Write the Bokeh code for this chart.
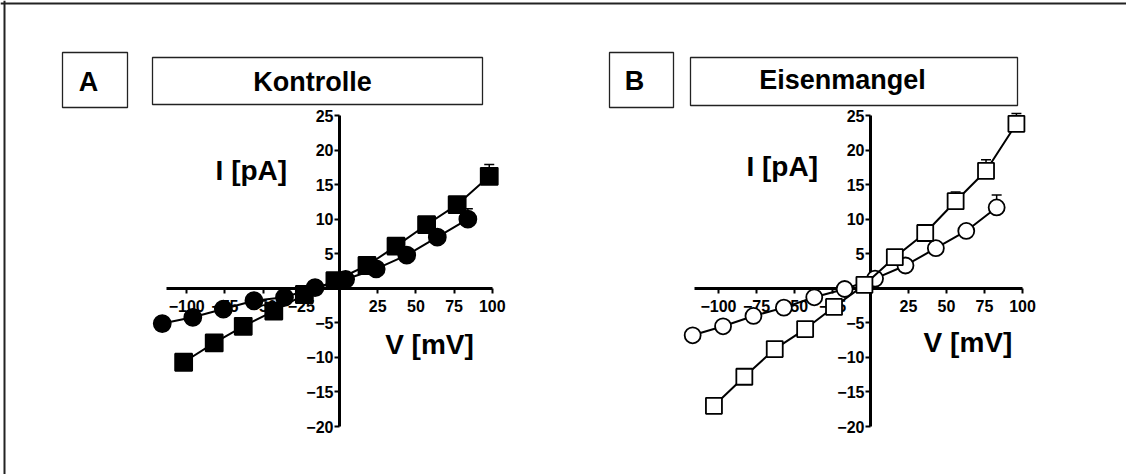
from bokeh.plotting import figure
from bokeh.models import Range1d, LinearAxis, FixedTicker, Whisker, ColumnDataSource, TeeHead
from bokeh.core.properties import value
from bokeh.embed import file_html
from bokeh.resources import INLINE

# ---------------- data ----------------
# Panel A: Kontrolle
v_sq_a = [-102, -82, -63, -43, -23, -3, 18, 37, 57, 77, 98]
i_sq_a = [-10.7, -7.9, -5.5, -3.3, -0.9, 1.1, 3.3, 6.1, 9.2, 12.1, 16.2]
e_sq_a = [0.4, 0.4, 0.3, 0.3, 0.2, 0.2, 0.3, 0.5, 0.6, 0.9, 1.7]

v_ci_a = [-116, -96, -76, -56, -36, -16, 4, 24, 44, 64, 84]
i_ci_a = [-5.1, -4.2, -3.0, -1.8, -1.3, 0.1, 1.3, 2.8, 4.8, 7.4, 10.0]
e_ci_a = [0.5, 0.4, 0.3, 0.3, 0.2, 0.2, 0.2, 0.3, 0.5, 0.8, 1.5]

# Panel B: Eisenmangel
v_sq_b = [-103, -83, -63, -43, -24, -4, 16, 36, 56, 76, 96]
i_sq_b = [-17.0, -12.8, -8.8, -5.9, -2.7, 0.5, 4.5, 8.0, 12.6, 17.0, 23.8]
e_sq_b = [0.5, 0.5, 0.4, 0.3, 0.3, 0.2, 0.4, 0.6, 1.35, 1.6, 1.5]

v_ci_b = [-117, -97, -77, -57, -37, -17, 3, 23, 43, 63, 83]
i_ci_b = [-6.8, -5.5, -4.0, -2.8, -1.3, -0.1, 1.4, 3.3, 5.8, 8.3, 11.7]
e_ci_b = [0.5, 0.4, 0.3, 0.3, 0.2, 0.2, 0.2, 0.4, 0.6, 0.9, 1.8]

x_ticks = [-100, -75, -50, -25, 25, 50, 75, 100]
y_ticks = [-20, -15, -10, -5, 5, 10, 15, 20, 25]

panel_letters = ["A", "B"]
panel_titles = ["Kontrolle", "Eisenmangel"]
y_title = "I [pA]"
x_title = "V [mV]"

# ---------------- figure ----------------
FONT = value("Liberation Sans")

p = figure(width=1126, height=474, output_backend="svg", toolbar_location=None,
           x_range=Range1d(-221.86, 515.05), y_range=Range1d(-26.94, 41.64),
           x_axis_type=None, y_axis_type=None, min_border=0,
           background_fill_color="white", border_fill_color="white")
p.grid.visible = False
p.outline_line_color = None
p.extra_x_ranges = {"b": Range1d(-572.37, 168.42), "px": Range1d(0, 1126)}
p.extra_y_ranges = {"py": Range1d(474, 0)}

# decorations in pixel space: outer frame (only its left and top edges fall inside the page)
p.vspan(x=[4], line_color="#222222", line_width=2, x_range_name="px", y_range_name="py")
p.hspan(y=[3], line_color="#222222", line_width=2, x_range_name="px", y_range_name="py")
# title boxes
p.quad(left=[62, 152, 609, 690], right=[127, 482, 673, 1017],
       top=[52, 57, 52, 57], bottom=[107, 104, 107, 105],
       fill_color="white", line_color="#222222", line_width=1.3,
       x_range_name="px", y_range_name="py")
p.text(x=[88, 312, 634, 842], y=[81, 81, 80, 79],
       text=[panel_letters[0], panel_titles[0], panel_letters[1], panel_titles[1]],
       text_font=FONT, text_font_style="bold", text_font_size="27px",
       text_align="center", text_baseline="middle", text_color="black",
       x_range_name="px", y_range_name="py")


def add_axes(xr, xbounds):
    xa = LinearAxis(x_range_name=xr, fixed_location=0, bounds=xbounds,
                    ticker=FixedTicker(ticks=x_ticks, minor_ticks=[]))
    ya = LinearAxis(x_range_name=xr, fixed_location=0, bounds=(-20, 25),
                    ticker=FixedTicker(ticks=y_ticks, minor_ticks=[]))
    for ax in (xa, ya):
        ax.axis_line_width = 3
        ax.axis_line_color = "black"
        ax.major_tick_line_width = 2
        ax.major_tick_line_color = "black"
        ax.major_tick_out = 5
        ax.major_tick_in = 0
        ax.minor_tick_out = 0
        ax.minor_tick_in = 0
        ax.major_label_text_font = "Liberation Sans"
        ax.major_label_text_font_style = "bold"
        ax.major_label_text_font_size = "16px"
        ax.major_label_text_color = "black"
        ax.level = "underlay"
    xa.major_label_standoff = 7
    ya.major_label_standoff = 1
    p.add_layout(xa, "below")
    p.add_layout(ya, "left")


def add_series(xr, v, i, e, marker, filled):
    src = ColumnDataSource(dict(v=v, i=i, up=[a + b for a, b in zip(i, e)]))
    w = Whisker(base="v", lower="i", upper="up", source=src, x_range_name=xr,
                line_color="black", line_width=1.5,
                upper_head=TeeHead(size=10, line_width=1.5, line_color="black"),
                lower_head=None, level="underlay")
    p.add_layout(w)
    p.line("v", "i", source=src, x_range_name=xr, line_color="black", line_width=2)
    p.scatter("v", "i", source=src, x_range_name=xr, marker=marker,
              size=17 if filled else 16,
              fill_color="black" if filled else "white",
              line_color="black", line_width=1.8)


def add_titles(xr, yt_pos, xt_pos):
    p.text(x=[yt_pos[0]], y=[yt_pos[1]], text=[y_title], text_font=FONT,
           text_font_style="bold", text_font_size="28px", text_align="center",
           text_baseline="middle", x_range_name=xr)
    p.text(x=[xt_pos[0]], y=[xt_pos[1]], text=[x_title], text_font=FONT,
           text_font_style="bold", text_font_size="28px", text_align="center",
           text_baseline="middle", x_range_name=xr)


# Panel A
add_axes("default", (-113, 100))
add_series("default", v_ci_a, i_ci_a, e_ci_a, "circle", True)
add_series("default", v_sq_a, i_sq_a, e_sq_a, "square", True)
add_titles("default", (-57.7, 17.0), (58.9, -8.2))

# Panel B
add_axes("b", (-116, 100))
add_series("b", v_ci_b, i_ci_b, e_ci_b, "circle", False)
add_series("b", v_sq_b, i_sq_b, e_sq_b, "square", False)
add_titles("b", (-58.1, 17.6), (64.1, -7.8))

open("out.html", "w").write(file_html(p, INLINE))
